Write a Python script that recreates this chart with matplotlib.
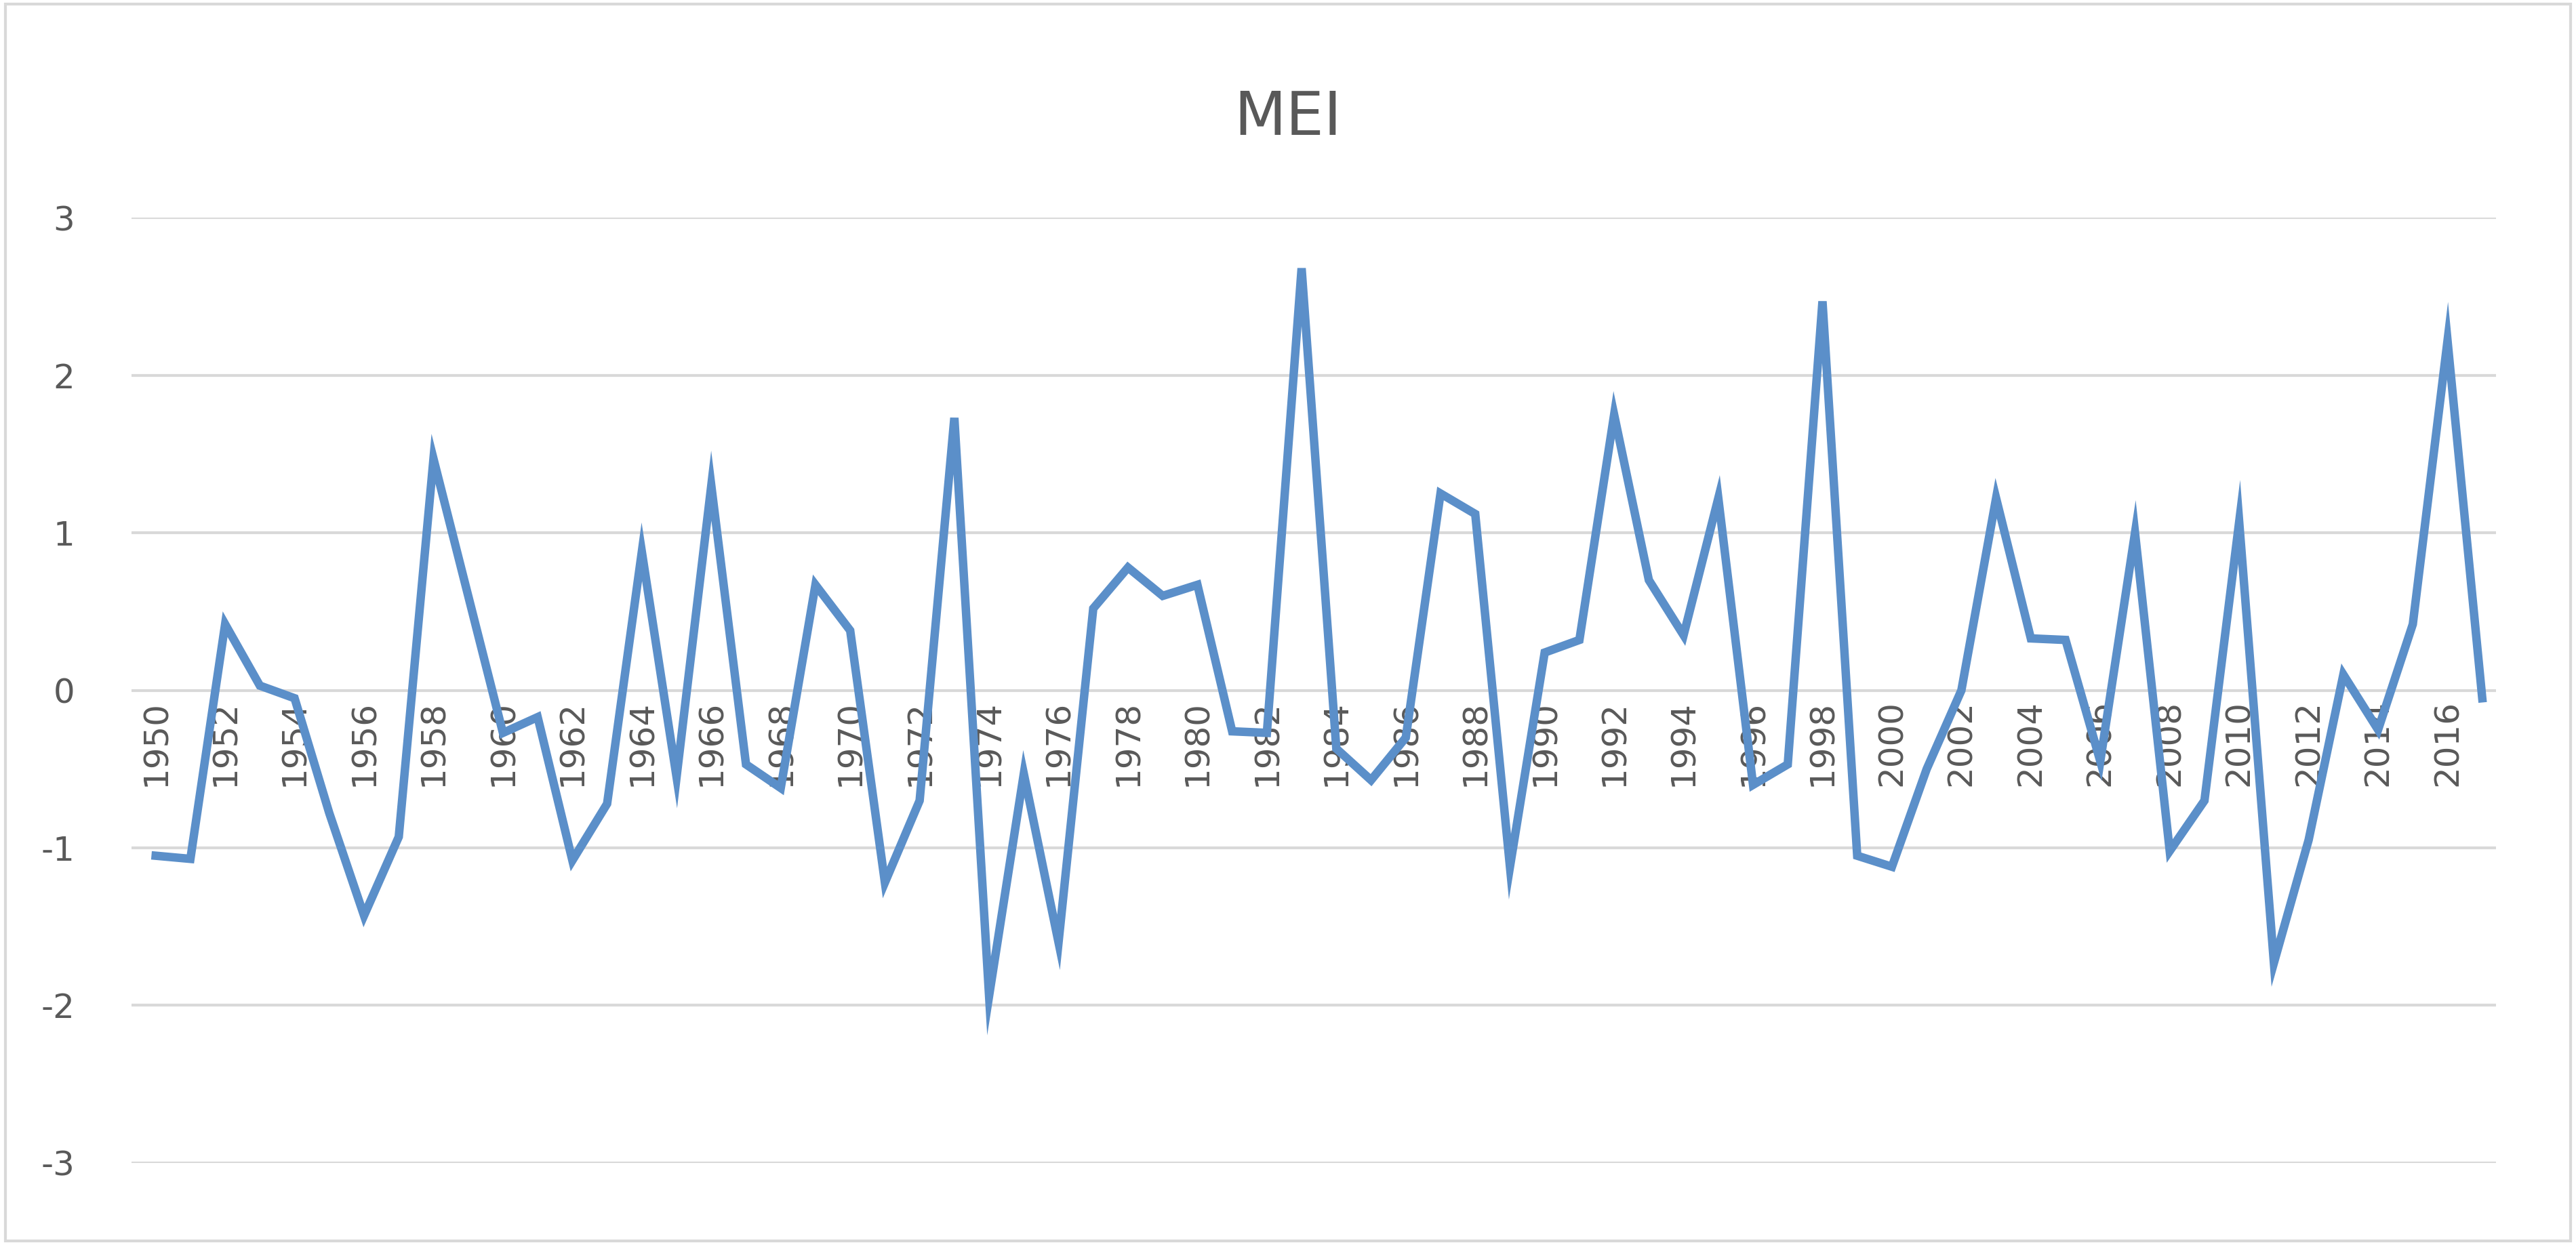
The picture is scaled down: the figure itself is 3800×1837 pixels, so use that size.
import matplotlib.pyplot as plt
from matplotlib.patches import Rectangle

years = list(range(1950, 2018))
mei = [-1.05, -1.07, 0.42, 0.03, -0.05, -0.78, -1.43, -0.93, 1.47, 0.60,
       -0.27, -0.17, -1.08, -0.72, 0.88, -0.55, 1.30, -0.47, -0.62, 0.67,
       0.38, -1.22, -0.70, 1.73, -1.94, -0.53, -1.60, 0.52, 0.78, 0.60,
       0.67, -0.26, -0.27, 2.68, -0.37, -0.57, -0.30, 1.25, 1.12, -1.12,
       0.24, 0.32, 1.75, 0.70, 0.35, 1.22, -0.60, -0.47, 2.47, -1.05,
       -1.12, -0.50, 0.00, 1.22, 0.33, 0.32, -0.45, 1.00, -1.02, -0.70,
       1.07, -1.73, -0.95, 0.10, -0.25, 0.42, 2.22, -0.05]
yticks = [-3, -2, -1, 0, 1, 2, 3]

grey = '#595959'
fig = plt.figure(figsize=(19, 9.185), dpi=200)
fig.patches.append(Rectangle((0.002, 0.003), 0.996, 0.994, transform=fig.transFigure,
                             fill=False, edgecolor='#D9D9D9', linewidth=1.5))
ax = fig.add_axes([0.051, 0.066, 0.918, 0.759])
for y in yticks:
    ax.axhline(y, color='#D9D9D9', linewidth=1.5, zorder=0)
ax.plot(years, mei, color='#5B8FC9', linewidth=4.5, solid_joinstyle='miter', zorder=3)
ax.set_xlim(1949.3, 2017.4)
ax.set_ylim(-3, 3)
ax.set_yticks(yticks)
ax.set_yticklabels([str(y) for y in yticks], color=grey, fontsize=18)
ax.tick_params(axis='y', length=0, pad=30)
ax.set_xticks([])
for s in ax.spines.values():
    s.set_visible(False)
for yr in years[::2]:
    ax.text(yr, -0.06, str(yr), rotation=90, ha='center', va='top',
            color=grey, fontsize=18, zorder=2)
fig.text(0.5, 0.905, 'MEI', ha='center', va='center', color=grey, fontsize=32)
fig.savefig('out.png')
